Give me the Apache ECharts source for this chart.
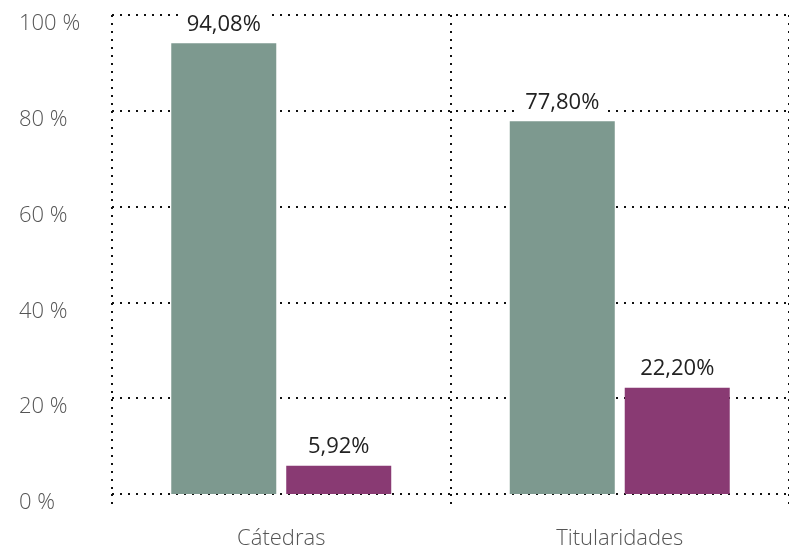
<!DOCTYPE html>
<html>
<head>
<meta charset="utf-8">
<script src="https://cdn.jsdelivr.net/npm/echarts@6/dist/echarts.min.js"></script>
<style>
  html, body { margin: 0; padding: 0; background: #fff; }
  #chart { width: 789px; height: 551px; }
</style>
</head>
<body>
<div id="chart"></div>
<script>
// Share of each position type, by group (percent)
const categories = ['Cátedras', 'Titularidades'];
const seriesA = [94.08, 77.80];
const seriesB = [5.92, 22.20];
const yTicks = [0, 20, 40, 60, 80, 100];

const dotted = { color: '#111', width: 2, type: [2, 6], cap: 'butt' };
const fmt = v => v.toFixed(2).replace('.', ',') + '%';

const labelStyle = {
  show: true,
  position: 'top',
  distance: 6,
  formatter: p => fmt(p.value),
  color: '#222',
  fontSize: 22,
  fontFamily: 'Open Sans',
  backgroundColor: '#fff',
  padding: [2, 8, 2, 8]
};

const chart = echarts.init(document.getElementById('chart'), null, { renderer: 'canvas' });
chart.setOption({
  animation: false,
  grid: { left: 112, top: 15, width: 690, height: 479, containLabel: false },
  xAxis: {
    type: 'category',
    data: categories,
    boundaryGap: true,
    axisLine: { show: false },
    axisTick: { show: true, length: 16, lineStyle: dotted },
    splitLine: { show: true, lineStyle: dotted },
    axisLabel: {
      color: '#555', fontSize: 22, fontFamily: 'Open Sans', fontWeight: 300, margin: 34
    }
  },
  yAxis: {
    type: 'value',
    min: yTicks[0],
    max: yTicks[yTicks.length - 1],
    interval: yTicks[1] - yTicks[0],
    axisLine: { show: false },
    axisTick: { show: false },
    splitLine: { show: true, lineStyle: dotted },
    axisLabel: {
      formatter: '{value} %', color: '#555', fontSize: 22, fontFamily: 'Open Sans', fontWeight: 300,
      align: 'left', verticalAlign: 'top', lineHeight: 18, margin: 93
    }
  },
  series: [
    {
      type: 'bar', data: seriesA, barWidth: 105, barGap: '9.5%',
      itemStyle: { color: '#7D998F' }, label: labelStyle, z: 3
    },
    {
      type: 'bar', data: seriesB, barWidth: 105,
      itemStyle: { color: '#893A73' }, label: labelStyle, z: 3
    }
  ]
});
</script>
</body>
</html>
